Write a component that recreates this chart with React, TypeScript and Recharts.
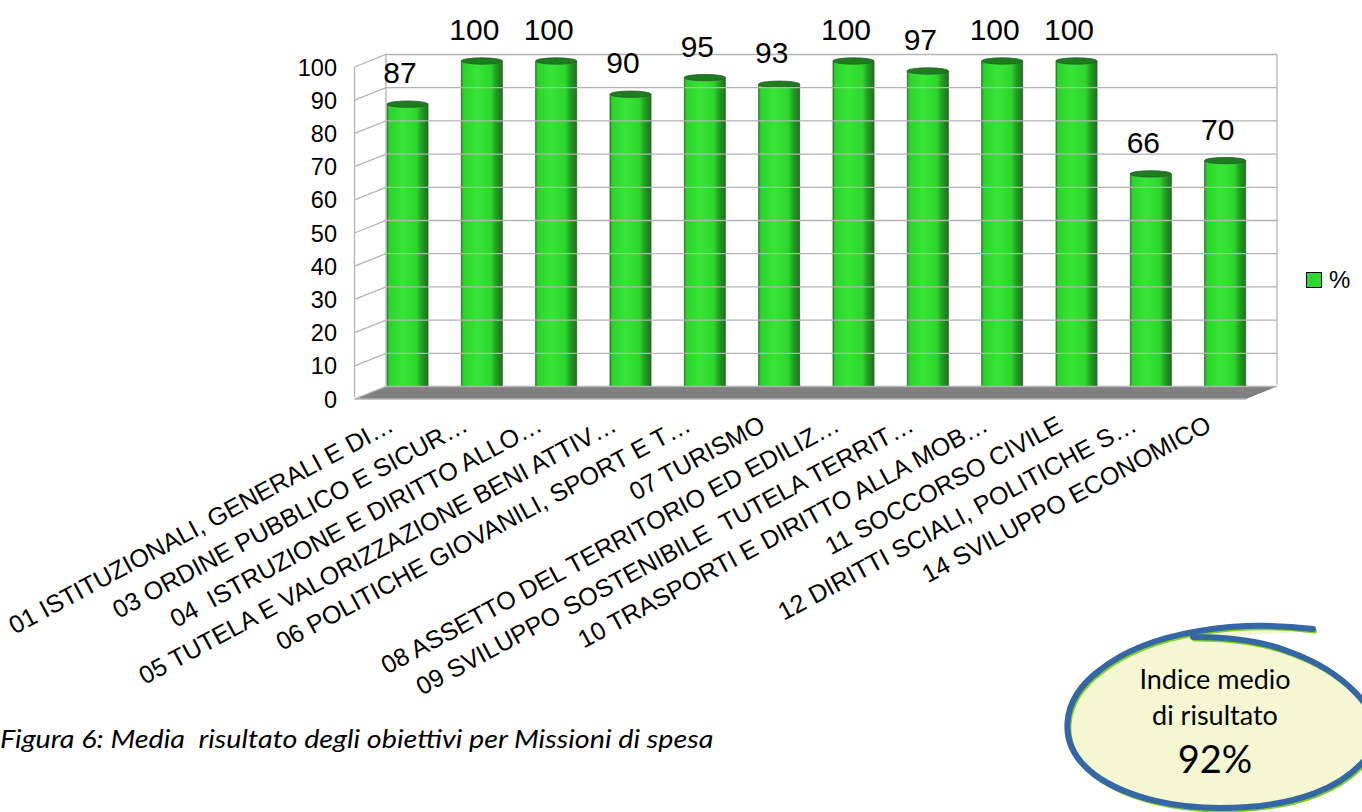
import { BarChart, Bar, XAxis, YAxis, Legend, LabelList } from "recharts";

const CATEGORIES = [
  "01 ISTITUZIONALI, GENERALI E DI…",
  "03 ORDINE PUBBLICO E SICUR…",
  "04  ISTRUZIONE E DIRITTO ALLO…",
  "05 TUTELA E VALORIZZAZIONE BENI ATTIV…",
  "06 POLITICHE GIOVANILI, SPORT E T…",
  "07 TURISMO",
  "08 ASSETTO DEL TERRITORIO ED EDILIZ…",
  "09 SVILUPPO SOSTENIBILE  TUTELA TERRIT…",
  "10 TRASPORTI E DIRITTO ALLA MOB…",
  "11 SOCCORSO CIVILE",
  "12 DIRITTI SCIALI, POLITICHE S…",
  "14 SVILUPPO ECONOMICO",
];
const VALUES = [87, 100, 100, 90, 95, 93, 100, 97, 100, 100, 66, 70];
const Y_TICKS = [0, 10, 20, 30, 40, 50, 60, 70, 80, 90, 100];

const FONT = "'Liberation Sans', Arial, sans-serif";
const CALLOUT_FONT = "Lato, sans-serif";
const GRID = "#b3b3b3";
const GREEN = "#2ed82e";

const PLOT_LEFT = 370;
const PLOT_RIGHT = 1262;
const DEPTH_X = 16;
const FRONT_DY = 6;
const BACK_DY = 6.5;

const chartData = CATEGORIES.map((name, i) => ({ name, value: VALUES[i] }));

function WallTick({ y, payload }: any) {
  const fx = PLOT_LEFT - DEPTH_X + 0.5;
  const bx = PLOT_LEFT + DEPTH_X;
  const rx = PLOT_RIGHT + DEPTH_X - 1;
  const fy = y + FRONT_DY;
  const by = y - BACK_DY;
  const isBottom = payload.value === 0;
  const isTop = payload.value === 100;
  return (
    <g>
      {isBottom && (
        <polygon
          points={`${fx},${fy} ${bx},${by} ${rx},${by} ${rx - 31},${fy}`}
          fill="#808080"
        />
      )}
      {isTop && (
        <>
          <line x1={fx} y1={fy} x2={fx} y2={fy + 330} stroke={GRID} strokeWidth={1.3} />
          <line x1={bx} y1={by} x2={bx} y2={by + 330} stroke={GRID} strokeWidth={1.3} />
          <line x1={rx} y1={by} x2={rx} y2={by + 330} stroke={GRID} strokeWidth={1.3} />
        </>
      )}
      <polyline
        points={`${fx},${fy} ${bx},${by} ${rx},${by}`}
        fill="none"
        stroke={GRID}
        strokeWidth={1.3}
      />
      {isBottom && <line x1={fx} y1={fy} x2={rx - 31} y2={fy} stroke={GRID} strokeWidth={1.5} />}
      <text
        x={337}
        y={fy + 8.5}
        textAnchor="end"
        fontFamily={FONT}
        fontSize={23.5}
        fill="#000"
      >
        {payload.value}
      </text>
    </g>
  );
}

function SlantedTick({ x, y, payload }: any) {
  const ax = x - 12;
  const ay = y + 29;
  return (
    <text
      x={ax}
      y={ay}
      transform={`rotate(-28.3 ${ax} ${ay})`}
      textAnchor="end"
      fontFamily={FONT}
      fontSize={25}
      fill="#000"
      style={{ whiteSpace: "pre" }}
    >
      {payload.value}
    </text>
  );
}

function Cylinder({ x, y, width, height }: any) {
  const cx = x + width / 2;
  const rx = width / 2;
  const bottom = y + height;
  return (
    <g>
      <path
        d={`M${x} ${y} L${x} ${bottom} A${rx} 3.2 0 0 0 ${x + width} ${bottom} L${x + width} ${y} Z`}
        fill="url(#cylinderFill)"
        stroke="#2b5a2b"
        strokeWidth={0.8}
      />
      <ellipse cx={cx} cy={y} rx={rx} ry={3.2} fill="#1c7d1c" stroke="#2b5a2b" strokeWidth={0.8} />
    </g>
  );
}

function ValueLabel({ x, y, width, value }: any) {
  return (
    <text
      x={x + width / 2 - 7.5}
      y={y - 21}
      textAnchor="middle"
      fontFamily={FONT}
      fontSize={30}
      fill="#000"
    >
      {value}
    </text>
  );
}

function LegendBox({ payload }: any) {
  return (
    <div>
      {(payload ?? []).map((p: any) => (
        <div key={p.value} style={{ display: "flex", alignItems: "center", fontFamily: FONT, fontSize: 24 }}>
          <span
            style={{
              width: 14,
              height: 14,
              background: GREEN,
              border: "1px solid #000",
              marginRight: 7,
            }}
          />
          {p.value}
        </div>
      ))}
    </div>
  );
}

function Callout() {
  const d =
    "M1313 629 C1240 620,1150 630,1100 670 C1060 700,1055 745,1095 775 C1130 800,1180 808,1220 808 C1290 808,1350 790,1375 745 C1385 710,1340 670,1290 652 C1260 640,1220 637,1193 637";
  return (
    <svg width={1362} height={812} style={{ position: "absolute", left: 0, top: 0 }}>
      <path d={d} fill="#f5f7d3" stroke="#7fd41f" strokeWidth={5} strokeLinecap="round" transform="translate(1.5 2)" />
      <path d={d} fill="none" stroke="#3566a6" strokeWidth={6} strokeLinecap="round" />
      <g fontFamily={CALLOUT_FONT} fill="#000" textAnchor="middle">
        <text x={1215} y={689} fontSize={27}>Indice medio</text>
        <text x={1215} y={725} fontSize={27}>di risultato</text>
        <text x={1215} y={773} fontSize={38}>92%</text>
      </g>
    </svg>
  );
}

export default function App() {
  return (
    <div
      style={{
        position: "absolute",
        left: 0,
        top: 0,
        width: 1362,
        height: 812,
        overflow: "hidden",
        background: "#fff",
      }}
    >
      <BarChart
        width={1362}
        height={812}
        data={chartData}
        margin={{ top: 61, right: 100, bottom: 191, left: 310 }}
      >
        <defs>
          <linearGradient id="cylinderFill" x1="0" y1="0" x2="1" y2="0">
            <stop offset="0%" stopColor="#23a523" />
            <stop offset="6%" stopColor="#2cd32c" />
            <stop offset="38%" stopColor="#36e636" />
            <stop offset="72%" stopColor="#2dd62d" />
            <stop offset="84%" stopColor="#249f24" />
            <stop offset="100%" stopColor="#1c741c" />
          </linearGradient>
        </defs>
        <YAxis
          width={60}
          domain={[0, 100]}
          ticks={Y_TICKS}
          axisLine={false}
          tickLine={false}
          tick={<WallTick />}
          interval={0}
        />
        <XAxis
          dataKey="name"
          height={200}
          axisLine={false}
          tickLine={false}
          tick={<SlantedTick />}
          interval={0}
        />
        <Legend
          content={<LegendBox />}
          wrapperStyle={{ position: "absolute", left: 1306, top: 266, width: 60, bottom: "auto" }}
        />
        <Bar
          dataKey="value"
          name="%"
          barSize={41}
          fill={GREEN}
          shape={<Cylinder />}
          isAnimationActive={false}
        >
          <LabelList dataKey="value" content={<ValueLabel />} />
        </Bar>
      </BarChart>
      <div
        style={{
          position: "absolute",
          left: 0,
          top: 722,
          fontFamily: CALLOUT_FONT,
          fontStyle: "italic",
          fontSize: 26,
          color: "#000",
          whiteSpace: "pre",
          transform: "scaleX(1.105)",
          transformOrigin: "left center",
        }}
      >
        Figura 6: Media  risultato degli obiettivi per Missioni di spesa
      </div>
      <Callout />
    </div>
  );
}
